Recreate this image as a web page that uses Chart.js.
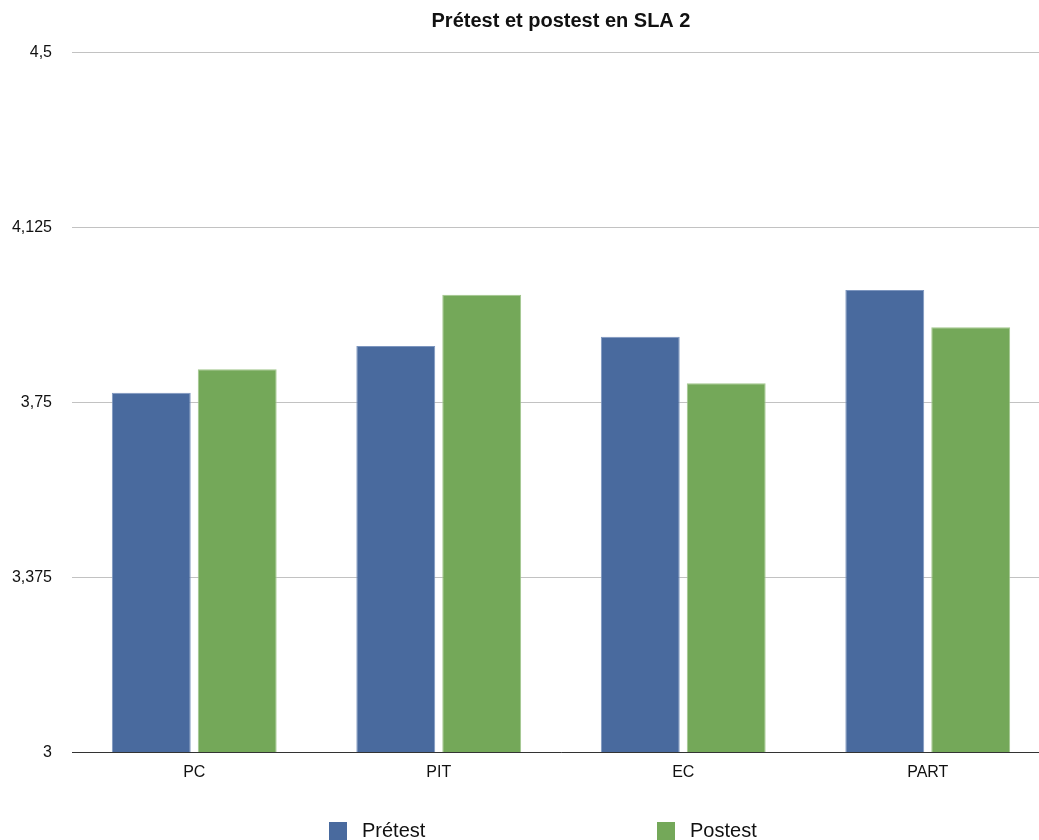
<!DOCTYPE html>
<html>
<head>
<meta charset="utf-8">
<script src="https://cdn.jsdelivr.net/npm/chart.js"></script>
<style>
  html, body { margin: 0; padding: 0; background: #fff; overflow: hidden; }
  #chart { display: block; }
</style>
</head>
<body>
<canvas id="chart" width="1122" height="880"></canvas>
<script>
var categories = ['PC', 'PIT', 'EC', 'PART'];
var pretest = [3.77, 3.87, 3.89, 3.99];
var postest = [3.82, 3.98, 3.79, 3.91];
var yTicks = [3, 3.375, 3.75, 4.125, 4.5];

Chart.defaults.font.family = '"Liberation Sans", Arial, Helvetica, sans-serif';
Chart.defaults.color = '#111';

// legend spread wide under the chart, like the original
var spreadLegend = {
    id: 'spreadLegend',
    afterDraw: function (chart) {
        var ctx = chart.ctx;
        var area = chart.chartArea;
        var y = area.bottom + 79;
        ctx.save();
        ctx.font = '20px "Liberation Sans", Arial, sans-serif';
        ctx.textBaseline = 'middle';
        ctx.textAlign = 'left';
        chart.data.datasets.forEach(function (ds, i) {
            var x = area.left + 257 + i * 328;
            ctx.fillStyle = ds.backgroundColor;
            ctx.fillRect(x, y - 9, 18, 18);
            ctx.fillStyle = '#111';
            ctx.fillText(ds.label, x + 33, y);
        });
        ctx.restore();
    }
};

document.addEventListener('DOMContentLoaded', function () {
    var ctx = document.getElementById('chart').getContext('2d');
    var chart = new Chart(ctx, {
        type: 'bar',
        plugins: [spreadLegend],
        data: {
            labels: categories,
            datasets: [{
                label: 'Prétest',
                data: pretest,
                backgroundColor: '#496a9e',
                borderColor: '#7d96bf',
                borderWidth: 1,
                categoryPercentage: 0.703,
                barPercentage: 0.918
            }, {
                label: 'Postest',
                data: postest,
                backgroundColor: '#74a859',
                borderColor: '#a2c78d',
                borderWidth: 1,
                categoryPercentage: 0.703,
                barPercentage: 0.918
            }]
        },
        options: {
            responsive: false,
            animation: { duration: 0 },
            layout: { padding: { top: 0, left: 0, right: 0, bottom: 98 } },
            plugins: {
                legend: { display: false },
                tooltip: { enabled: false },
                title: {
                    display: true,
                    text: 'Prétest et postest en SLA 2',
                    color: '#111',
                    font: { size: 20, weight: 'bold' },
                    padding: { top: 9, bottom: 19 }
                }
            },
            scales: {
                x: {
                    grid: { display: false },
                    border: { display: true, color: '#333', width: 1 },
                    ticks: { color: '#111', font: { size: 16 }, padding: 3 },
                    afterFit: function (s) { s.height = 30; }
                },
                y: {
                    min: 3,
                    max: 4.5,
                    afterBuildTicks: function (s) {
                        s.ticks = yTicks.map(function (v) { return { value: v }; });
                    },
                    grid: { color: '#c2c2c2', lineWidth: 1, drawTicks: false },
                    border: { display: false },
                    ticks: {
                        color: '#111',
                        font: { size: 16 },
                        padding: 20,
                        labelOffset: 1,
                        callback: function (v) {
                            return String(Number(v.toFixed(3))).replace('.', ',');
                        }
                    },
                    afterFit: function (s) { s.width = 72; }
                },
                y2: {
                    type: 'linear',
                    position: 'right',
                    grid: { display: false },
                    border: { display: false },
                    ticks: { display: false },
                    afterFit: function (s) { s.width = 72; }
                }
            }
        }
    });
});
</script>
</body>
</html>
